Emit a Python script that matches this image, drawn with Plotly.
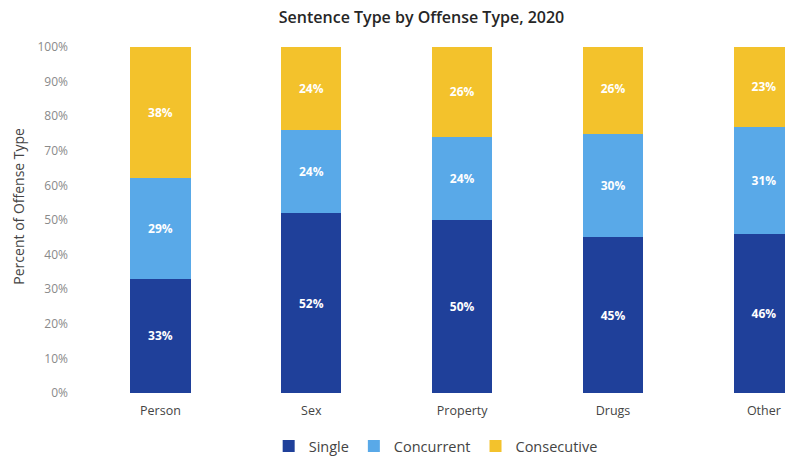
import plotly.graph_objects as go

# Offense categories and sentence-type shares (percent of offense type)
offense_types = ["Person", "Sex", "Property", "Drugs", "Other"]
single = [33, 52, 50, 45, 46]
concurrent = [29, 24, 24, 30, 31]
consecutive = [38, 24, 26, 26, 23]

y_ticks = [0, 10, 20, 30, 40, 50, 60, 70, 80, 90, 100]
y_tick_labels = [f"{v}%" for v in y_ticks]

series = [
    ("Single", single, "#1F409A"),
    ("Concurrent", concurrent, "#59A9E8"),
    ("Consecutive", consecutive, "#F3C22C"),
]

FONT = "Open Sans"

fig = go.Figure()
for name, values, color in series:
    fig.add_trace(go.Bar(
        name=name,
        x=offense_types,
        y=values,
        marker=dict(color=color, line=dict(width=0)),
        text=[f"{v}%" for v in values],
        textposition="inside",
        insidetextanchor="middle",
        textangle=0,
        textfont=dict(family=FONT, size=12, color="white", weight="bold"),
        hoverinfo="skip",
    ))

fig.update_layout(
    barmode="stack",
    bargap=0.6,
    width=785,
    height=459,
    margin=dict(l=85, r=0, t=47, b=66),
    paper_bgcolor="white",
    plot_bgcolor="white",
    font=dict(family=FONT, color="#555555"),
    title=dict(
        text="Sentence Type by Offense Type, 2020",
        x=0.537, xref="container", xanchor="center",
        y=0.963, yref="container", yanchor="middle",
        font=dict(family=FONT, size=16, color="#262626", weight=600),
    ),
    xaxis=dict(
        range=[-0.5, 4.14],
        showgrid=False,
        showline=False,
        ticks="",
        tickfont=dict(family=FONT, size=12.5, color="#444444"),
        ticklabelstandoff=8,
    ),
    yaxis=dict(
        range=[0, 100],
        tickvals=y_ticks,
        ticktext=y_tick_labels,
        showgrid=False,
        zeroline=False,
        showline=False,
        ticks="",
        tickfont=dict(family=FONT, size=12, color="#8a8a8a"),
        ticklabelstandoff=16,
    ),
    legend=dict(
        orientation="h",
        x=0.555, xref="container", xanchor="center",
        y=0.028, yref="container", yanchor="middle",
        font=dict(family=FONT, size=14.5, color="#444444"),
        itemwidth=30,
        traceorder="normal",
    ),
    showlegend=True,
)

fig.add_annotation(
    text="Percent of Offense Type",
    xref="paper", yref="paper",
    x=-0.095, y=0.54,
    xanchor="center", yanchor="middle",
    textangle=-90,
    showarrow=False,
    font=dict(family=FONT, size=14, color="#444444"),
)

fig.write_html("out.html")
